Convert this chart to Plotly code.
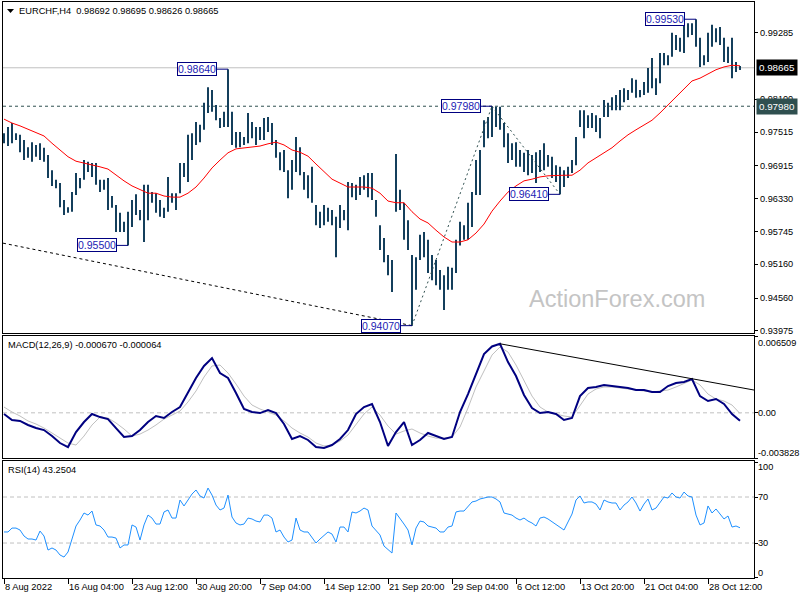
import plotly.graph_objects as go

W, H = 800, 600
FONT = "Liberation Sans, Arial, sans-serif"

title_text = "EURCHF,H4  0.98692 0.98695 0.98626 0.98665"
macd_text = "MACD(12,26,9) -0.000670 -0.000064"
rsi_text = "RSI(14) 43.2504"
watermark = "ActionForex.com"

# ---- H4 bars (high / low) ----
bar_high = [
    0.9750, 0.9761, 0.9768, 0.9750, 0.9747, 0.9738, 0.9725, 0.9734, 0.9729, 0.9732,
    0.9724, 0.9711, 0.9684, 0.9667, 0.9661, 0.9631, 0.9618, 0.9645, 0.9679, 0.9670,
    0.9702, 0.9699, 0.9697, 0.9697, 0.9667, 0.9667, 0.9670, 0.9638, 0.9622, 0.9608,
    0.9592, 0.9610, 0.9631, 0.9641, 0.9613, 0.9658, 0.9658, 0.9645, 0.9643, 0.9631,
    0.9617, 0.9672, 0.9643, 0.9643, 0.9697, 0.9697, 0.9747, 0.9750, 0.9770, 0.9765,
    0.9804, 0.9832, 0.9827, 0.9800, 0.9777, 0.9788, 0.9864, 0.9788, 0.9752, 0.9752,
    0.9743, 0.9786, 0.9770, 0.9761, 0.9761, 0.9777, 0.9779, 0.9768, 0.9738, 0.9716,
    0.9720, 0.9684, 0.9702, 0.9743, 0.9725, 0.9681, 0.9675, 0.9690, 0.9622, 0.9610,
    0.9622, 0.9617, 0.9613, 0.9601, 0.9622, 0.9613, 0.9663, 0.9661, 0.9658, 0.9672,
    0.9675, 0.9679, 0.9679, 0.9631, 0.9586, 0.9563, 0.9533, 0.9524, 0.9713, 0.9649,
    0.9626, 0.9595, 0.9533, 0.9529, 0.9569, 0.9574, 0.9560, 0.9533, 0.9524, 0.9506,
    0.9497, 0.9512, 0.9510, 0.9560, 0.9592, 0.9586, 0.9626, 0.9645, 0.9702, 0.9720,
    0.9773, 0.9779, 0.9798, 0.9797, 0.9797, 0.9768, 0.9750, 0.9732, 0.9734, 0.9720,
    0.9715, 0.9720, 0.9711, 0.9716, 0.9720, 0.9732, 0.9711, 0.9708, 0.9693, 0.9690,
    0.9684, 0.9690, 0.9702, 0.9743, 0.9791, 0.9791, 0.9782, 0.9786, 0.9782, 0.9777,
    0.9809, 0.9804, 0.9814, 0.9818, 0.9827, 0.9830, 0.9827, 0.9848, 0.9845, 0.9827,
    0.9841, 0.9866, 0.9884, 0.9848, 0.9893, 0.9893, 0.9889, 0.9929, 0.9925, 0.9920,
    0.9946, 0.9946, 0.9946, 0.9953, 0.9920, 0.9889, 0.9929, 0.9943, 0.9937, 0.9939,
    0.9920, 0.9904, 0.9920, 0.9877, 0.98695,
]
bar_low = [
    0.9732, 0.9727, 0.9732, 0.9738, 0.9716, 0.9702, 0.9706, 0.9699, 0.9708, 0.9702,
    0.9699, 0.9670, 0.9656, 0.9652, 0.9618, 0.9604, 0.9608, 0.9610, 0.9640, 0.9652,
    0.9667, 0.9681, 0.9672, 0.9658, 0.9645, 0.9649, 0.9613, 0.9617, 0.9574, 0.9574,
    0.9574, 0.9550, 0.9583, 0.9604, 0.9595, 0.9556, 0.9595, 0.9626, 0.9608, 0.9601,
    0.9599, 0.9610, 0.9626, 0.9613, 0.9643, 0.9672, 0.9663, 0.9702, 0.9729, 0.9734,
    0.9756, 0.9786, 0.9788, 0.9773, 0.9759, 0.9761, 0.9761, 0.9729, 0.9724, 0.9725,
    0.9729, 0.9732, 0.9741, 0.9729, 0.9738, 0.9738, 0.9752, 0.9729, 0.9706, 0.9684,
    0.9681, 0.9634, 0.9649, 0.9681, 0.9675, 0.9649, 0.9634, 0.9626, 0.9586, 0.9581,
    0.9586, 0.9592, 0.9586, 0.9529, 0.9581, 0.9595, 0.9577, 0.9636, 0.9631, 0.9640,
    0.9649, 0.9636, 0.9631, 0.9601, 0.9542, 0.9520, 0.9497, 0.9467, 0.9610, 0.9613,
    0.9560, 0.9542, 0.9407, 0.9471, 0.9524, 0.9529, 0.9501, 0.9488, 0.9479, 0.9471,
    0.9435, 0.9471, 0.9471, 0.9501, 0.9550, 0.9560, 0.9560, 0.9583, 0.9640, 0.9640,
    0.9725, 0.9741, 0.9743, 0.9761, 0.9756, 0.9725, 0.9697, 0.9702, 0.9690, 0.9690,
    0.9681, 0.9675, 0.9679, 0.9661, 0.9681, 0.9684, 0.9690, 0.9670, 0.9663, 0.9641,
    0.9654, 0.9670, 0.9679, 0.9693, 0.9761, 0.9741, 0.9759, 0.9759, 0.9752, 0.9741,
    0.9779, 0.9779, 0.9791, 0.9791, 0.9791, 0.9805, 0.9809, 0.9822, 0.9813, 0.9814,
    0.9818, 0.9822, 0.9830, 0.9818, 0.9839, 0.9871, 0.9871, 0.9886, 0.9898, 0.9895,
    0.9893, 0.9921, 0.9925, 0.9904, 0.9868, 0.9871, 0.9877, 0.9904, 0.9912, 0.9907,
    0.9877, 0.9875, 0.9848, 0.9859, 0.98626,
]

# ---- moving average (one value every 2 bars) ----
ma_step = 2
ma_values = [
    0.9775, 0.9768, 0.9763, 0.9757, 0.9752, 0.9745, 0.9732, 0.9720, 0.9708, 0.9700,
    0.9697, 0.9693, 0.9690, 0.9686, 0.9675, 0.9665, 0.9656, 0.9649, 0.9643, 0.9643,
    0.9638, 0.9636, 0.9636, 0.9643, 0.9654, 0.9670, 0.9688, 0.9702, 0.9715, 0.9722,
    0.9724, 0.9725, 0.9727, 0.9731, 0.9734, 0.9729, 0.9720, 0.9716, 0.9709, 0.9695,
    0.9681, 0.9668, 0.9661, 0.9654, 0.9654, 0.9654, 0.9652, 0.9643, 0.9629, 0.9626,
    0.9626, 0.9610, 0.9597, 0.9590, 0.9577, 0.9565, 0.9556, 0.9556, 0.9560, 0.9572,
    0.9588, 0.9611, 0.9629, 0.9645, 0.9656, 0.9665, 0.9668, 0.9672, 0.9674, 0.9675,
    0.9675, 0.9675, 0.9684, 0.9697, 0.9706, 0.9715, 0.9724, 0.9736, 0.9747, 0.9756,
    0.9765, 0.9773, 0.9786, 0.9800, 0.9814, 0.9829, 0.9843, 0.9848, 0.9855, 0.9863,
    0.9868, 0.9871, 0.9870,
]

# ---- MACD (one value every 2 bars) ----
macd_step = 2
macd_values = [
    -0.00010, -0.00061, -0.00069, -0.00103, -0.00129, -0.00146, -0.00197, -0.00256, -0.00290, -0.00163,
    -0.00078, -0.00010, -0.00036, -0.00053, -0.00129, -0.00205, -0.00197, -0.00146, -0.00078, -0.00027,
    -0.00044, 0.00007, 0.00049, 0.00168, 0.00295, 0.00397, 0.00464, 0.00337, 0.00295, 0.00168,
    0.00032, 0.00007, -0.00002, 0.00024, -0.00002, -0.00095, -0.00222, -0.00197, -0.00230, -0.00290,
    -0.00298, -0.00273, -0.00222, -0.00146, -0.00010, 0.00049, 0.00075, -0.00078, -0.00281, -0.00163,
    -0.00078, -0.00273, -0.00230, -0.00171, -0.00197, -0.00222, -0.00205, 0.00007, 0.00159, 0.00329,
    0.00498, 0.00562, 0.00585, 0.00430, 0.00312, 0.00151, 0.00041, -0.00002, 0.00007, -0.00010,
    -0.00061, -0.00044, 0.00142, 0.00210, 0.00219, 0.00236, 0.00227, 0.00219, 0.00210, 0.00193,
    0.00193, 0.00176, 0.00176, 0.00227, 0.00252, 0.00261, 0.00286, 0.00142, 0.00100, 0.00117,
    0.00075, -0.00010, -0.00067,
]
signal_values = [
    0.00049, 0.00007, -0.00027, -0.00069, -0.00095, -0.00129, -0.00171, -0.00214, -0.00256, -0.00273,
    -0.00197, -0.00103, -0.00036, -0.00044, -0.00086, -0.00137, -0.00197, -0.00180, -0.00146, -0.00103,
    -0.00053, -0.00019, 0.00015, 0.00092, 0.00185, 0.00303, 0.00397, 0.00405, 0.00337, 0.00244,
    0.00142, 0.00066, 0.00032, 0.00007, -0.00019, -0.00069, -0.00129, -0.00171, -0.00205, -0.00256,
    -0.00281, -0.00273, -0.00239, -0.00188, -0.00103, -0.00010, 0.00049, -0.00019, -0.00112, -0.00180,
    -0.00154, -0.00137, -0.00171, -0.00197, -0.00214, -0.00214, -0.00205, -0.00120, 0.00041, 0.00219,
    0.00354, 0.00490, 0.00558, 0.00515, 0.00405, 0.00269, 0.00142, 0.00049, 0.00007, -0.00010,
    -0.00027, -0.00036, 0.00058, 0.00159, 0.00202, 0.00219, 0.00219, 0.00210, 0.00202, 0.00193,
    0.00185, 0.00176, 0.00185, 0.00193, 0.00219, 0.00252, 0.00278, 0.00236, 0.00159, 0.00117,
    0.00100, 0.00066, -0.00006,
]

# ---- RSI(14), one value per bar ----
rsi_values = [
    39.6, 39.6, 43.0, 43.0, 41.3, 36.1, 33.5, 33.5, 32.6, 40.4,
    36.1, 23.9, 25.7, 23.9, 19.6, 17.8, 22.2, 34.3, 44.8, 50.0,
    56.1, 54.3, 57.8, 45.7, 44.8, 41.3, 35.2, 35.2, 34.3, 25.7,
    28.3, 28.3, 45.7, 43.9, 32.6, 45.7, 54.3, 51.7, 46.5, 46.5,
    57.0, 58.7, 51.7, 51.7, 67.4, 62.2, 67.4, 72.6, 76.1, 70.9,
    69.1, 77.8, 71.7, 63.0, 58.7, 60.4, 71.7, 52.6, 47.4, 45.7,
    46.5, 51.7, 50.9, 49.1, 48.3, 54.3, 54.3, 51.7, 39.6, 41.3,
    35.2, 30.9, 32.6, 51.7, 41.3, 39.6, 39.6, 34.3, 30.0, 33.5,
    37.0, 39.6, 37.8, 30.9, 43.9, 43.9, 39.6, 57.0, 56.1, 57.8,
    60.4, 58.7, 44.8, 41.3, 37.0, 27.4, 23.9, 21.3, 56.1, 51.7,
    46.5, 41.3, 28.3, 43.0, 49.1, 48.3, 44.8, 43.9, 43.0, 39.6,
    39.6, 43.9, 44.8, 57.0, 57.8, 57.8, 61.3, 65.7, 66.5, 68.3,
    69.1, 70.0, 70.0, 68.3, 65.7, 56.1, 55.2, 54.3, 51.7, 50.0,
    51.7, 49.1, 47.4, 44.8, 51.7, 52.6, 50.9, 48.3, 45.7, 43.9,
    41.3, 48.3, 55.2, 67.4, 70.9, 64.8, 65.7, 65.7, 63.9, 58.7,
    67.4, 65.7, 64.8, 64.8, 58.7, 63.0, 65.7, 70.0, 64.8, 57.8,
    63.9, 68.3, 58.7, 60.4, 65.7, 70.0, 69.1, 73.5, 70.0, 69.1,
    74.3, 70.9, 70.0, 54.3, 45.7, 47.4, 62.2, 56.1, 59.6, 55.2,
    50.9, 53.5, 43.9, 44.8, 43.25,
]

date_labels = ["8 Aug 2022", "16 Aug 04:00", "23 Aug 12:00", "30 Aug 20:00",
               "7 Sep 04:00", "14 Sep 12:00", "21 Sep 20:00", "29 Sep 04:00",
               "6 Oct 12:00", "13 Oct 20:00", "21 Oct 04:00", "28 Oct 12:00"]
date_every = 16

price_ticks = [0.99285, 0.98100, 0.97515, 0.96915, 0.96330, 0.95745, 0.95160, 0.94560, 0.93975]
current_price = 0.98665
hline_price = 0.97980

label_bar = [56, 31, 102, 122, 139, 173]
label_price = [0.98640, 0.95500, 0.94070, 0.97980, 0.96410, 0.99530]

trend_bars = [[-0.25, 102], [102, 122], [122, 139]]
trend_prices = [[0.9554, 0.9407], [0.9407, 0.9798], [0.9798, 0.9641]]

macd_trend_bars = [124, 187.5]
macd_trend_vals = [0.00585, 0.00193]

macd_axis = [0.006509, 0.0, -0.003828]
rsi_axis = [100, 70, 30, 0]
rsi_levels = [70, 30]

# ---- colours ----
BAR_COLOR = "#143f5c"
NAVY = "#000080"

def px(x):
    return x / W

def py(y):
    return 1 - y / H

X_RANGE = [-0.25, 187.5]
X_DOM = [px(3), px(754)]
PRICE_LABEL_X = px(759)
SUB_LABEL_X = px(757)

fig = go.Figure()

# bars
bx, by = [], []
for i, (h, l) in enumerate(zip(bar_high, bar_low)):
    bx += [i, i, None]
    by += [l, h, None]
fig.add_trace(go.Scatter(x=bx, y=by, mode="lines", line=dict(color=BAR_COLOR, width=2),
                         xaxis="x", yaxis="y", hoverinfo="skip", showlegend=False))

# moving average
fig.add_trace(go.Scatter(x=[i * ma_step for i in range(len(ma_values))], y=ma_values, mode="lines",
                         line=dict(color="#ff0000", width=1), xaxis="x", yaxis="y",
                         hoverinfo="skip", showlegend=False))

# trendlines in price chart
for k, (xs, ys) in enumerate(zip(trend_bars, trend_prices)):
    fig.add_trace(go.Scatter(x=xs, y=ys, mode="lines",
                             line=dict(color="#000000" if k == 0 else "#2f4f4f", width=1,
                                       dash="3px,3px" if k == 0 else "2px,3px"),
                             xaxis="x", yaxis="y", hoverinfo="skip", showlegend=False))

# MACD
fig.add_trace(go.Scatter(x=[i * macd_step for i in range(len(signal_values))], y=signal_values,
                         mode="lines", line=dict(color="#c0c0c0", width=1),
                         xaxis="x2", yaxis="y2", hoverinfo="skip", showlegend=False))
fig.add_trace(go.Scatter(x=[i * macd_step for i in range(len(macd_values))], y=macd_values,
                         mode="lines", line=dict(color=NAVY, width=2),
                         xaxis="x2", yaxis="y2", hoverinfo="skip", showlegend=False))
fig.add_trace(go.Scatter(x=macd_trend_bars, y=macd_trend_vals, mode="lines",
                         line=dict(color="#000000", width=1), xaxis="x2", yaxis="y2",
                         hoverinfo="skip", showlegend=False))

# RSI
fig.add_trace(go.Scatter(x=list(range(len(rsi_values))), y=rsi_values, mode="lines",
                         line=dict(color="#1e90ff", width=1), xaxis="x3", yaxis="y3",
                         hoverinfo="skip", showlegend=False))

frame = dict(showline=True, linecolor="#000000", linewidth=1, mirror=True,
             showgrid=False, zeroline=False, automargin=False)
tickfont = dict(family=FONT, size=9.3, color="#000000")

fig.update_layout(
    width=W, height=H,
    margin=dict(l=0, r=0, t=0, b=0, autoexpand=False),
    paper_bgcolor="#ffffff", plot_bgcolor="#ffffff",
    showlegend=False,
    xaxis=dict(domain=X_DOM, range=X_RANGE, anchor="y", showticklabels=False, ticks="", **frame),
    xaxis2=dict(domain=X_DOM, range=X_RANGE, anchor="y2", showticklabels=False, ticks="", **frame),
    xaxis3=dict(domain=X_DOM, range=X_RANGE, anchor="y3",
                tickvals=[i * date_every for i in range(len(date_labels))], ticktext=date_labels,
                ticks="outside", ticklen=5, tickcolor="#000000", tickangle=0,
                ticklabelposition="outside right", tickfont=tickfont, **frame),
    yaxis=dict(domain=[py(333), py(2)], range=[0.93939, 0.99837], anchor="x", side="right",
               tickvals=price_ticks, showticklabels=False,
               ticks="outside", ticklen=3, tickcolor="#000000", **frame),
    yaxis2=dict(domain=[py(458), py(336)], range=[macd_axis[2], macd_axis[0]], anchor="x2",
                side="right", tickvals=macd_axis, showticklabels=False,
                ticks="outside", ticklen=3, tickcolor="#000000", **frame),
    yaxis3=dict(domain=[py(578), py(461)], range=[-0.4, 101.3], anchor="x3", side="right",
                tickvals=rsi_axis, showticklabels=False,
                ticks="outside", ticklen=3, tickcolor="#000000", **frame),
)

shapes = []
shapes.append(dict(type="line", xref="paper", yref="y", x0=X_DOM[0], x1=X_DOM[1],
                   y0=current_price, y1=current_price, line=dict(color="#c0c0c0", width=1),
                   layer="below"))
shapes.append(dict(type="line", xref="paper", yref="y", x0=X_DOM[0], x1=X_DOM[1],
                   y0=hline_price, y1=hline_price,
                   line=dict(color="#2f4f4f", width=1, dash="3px,3px"), layer="below"))
shapes.append(dict(type="line", xref="paper", yref="y2", x0=X_DOM[0], x1=X_DOM[1], y0=0, y1=0,
                   line=dict(color="#c0c0c0", width=1, dash="4px,3px"), layer="below"))
for lv in rsi_levels:
    shapes.append(dict(type="line", xref="paper", yref="y3", x0=X_DOM[0], x1=X_DOM[1], y0=lv, y1=lv,
                       line=dict(color="#c0c0c0", width=1, dash="4px,3px"), layer="below"))
shapes.append(dict(type="path", xref="paper", yref="paper",
                   path=f"M {px(7)} {py(9)} L {px(14)} {py(9)} L {px(10.5)} {py(13)} Z",
                   fillcolor="#000000", line=dict(color="#000000", width=0)))
fig.update_layout(shapes=shapes)

ann = []
def text_ann(txt, x, y, size=9.3, color="#000000", **kw):
    d = dict(text=txt, xref="paper", yref="paper", x=px(x), y=py(y), xanchor="left",
             yanchor="middle", showarrow=False, font=dict(family=FONT, size=size, color=color))
    d.update(kw)
    return d

ann.append(text_ann(title_text, 17, 11))
ann.append(text_ann(macd_text, 6, 345))
ann.append(text_ann(rsi_text, 6, 470))
ann.append(dict(text=watermark, xref="paper", yref="paper", x=px(617), y=py(299),
                xanchor="center", yanchor="middle", showarrow=False,
                font=dict(family=FONT, size=23.5, color="#c4c4c4")))

# price axis labels
for v in price_ticks:
    ann.append(dict(text=f"{v:.5f}", xref="paper", yref="y", x=PRICE_LABEL_X, y=v,
                    xanchor="left", yanchor="middle", showarrow=False, borderpad=0,
                    font=dict(family=FONT, size=9.2, color="#000000")))

# price label boxes
for b, p in zip(label_bar, label_price):
    ann.append(dict(text=f"{p:.5f}", x=b, y=p, xref="x", yref="y", showarrow=True,
                    arrowhead=0, arrowwidth=1, arrowcolor=NAVY, ax=-31, ay=0, standoff=0,
                    bgcolor="#ffffff", bordercolor=NAVY, borderwidth=1, borderpad=0,
                    font=dict(family=FONT, size=10.5, color="#1c1cb4")))

# right-axis boxes
ann.append(dict(text=f"{current_price:.5f}", xref="paper", yref="y", x=px(755.5), y=current_price,
                xanchor="left", yanchor="middle", showarrow=False, bgcolor="#000000",
                borderpad=2, font=dict(family=FONT, size=9.8, color="#ffffff")))
ann.append(dict(text=f"{hline_price:.5f}", xref="paper", yref="y", x=px(755.5), y=hline_price,
                xanchor="left", yanchor="middle", showarrow=False, bgcolor="#2f4f4f",
                borderpad=2, font=dict(family=FONT, size=9.8, color="#ffffff")))

# MACD & RSI axis labels
macd_shift = [-7, 0, 5]
for v, s in zip(macd_axis, macd_shift):
    ann.append(dict(text=("0.00" if v == 0 else f"{v:.6f}"), xref="paper", yref="y2", x=SUB_LABEL_X,
                    y=v, yshift=s, xanchor="left", yanchor="middle", showarrow=False, borderpad=0,
                    font=dict(family=FONT, size=9.2, color="#000000")))
rsi_shift = [-4.5, 0, 0, 5]
for v, s in zip(rsi_axis, rsi_shift):
    ann.append(dict(text=str(v), xref="paper", yref="y3", x=SUB_LABEL_X, y=v, yshift=s,
                    xanchor="left", yanchor="middle", showarrow=False, borderpad=0,
                    font=dict(family=FONT, size=9.2, color="#000000")))

fig.update_layout(annotations=ann)

fig.write_html("out.html", config={"displayModeBar": False},
               post_script="document.body.style.margin='0';document.body.style.overflow='hidden';")
